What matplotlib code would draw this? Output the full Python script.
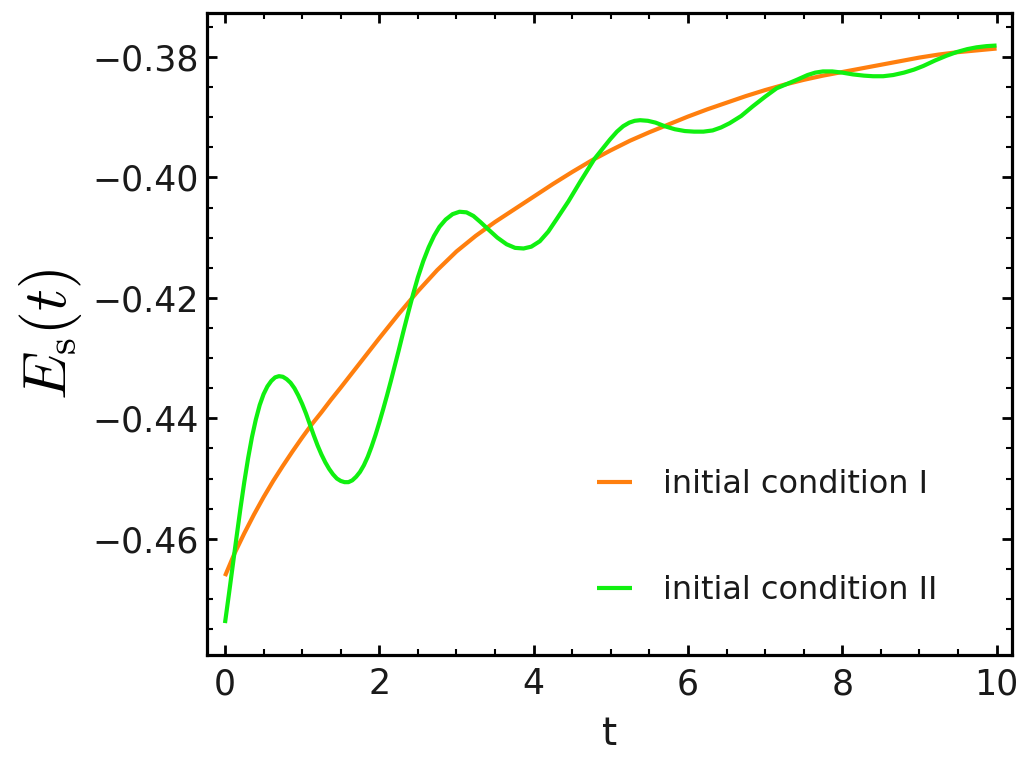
import matplotlib
matplotlib.use("Agg")
import matplotlib.pyplot as plt
from matplotlib.ticker import MultipleLocator, FuncFormatter

# ---- data ----
t_orange = [0.0, 0.125, 0.25, 0.375, 0.5, 0.625, 0.75, 0.875, 1.0, 1.125,
            1.25, 1.375, 1.5, 1.75, 2.0, 2.25, 2.5, 2.75,
            3.0, 3.25, 3.5, 3.75, 4.0, 4.25, 4.5, 4.75, 5.0, 5.25, 5.5, 5.75,
            6.0, 6.25, 6.5, 6.75, 7.0, 7.25, 7.5, 7.75, 8.0, 8.25, 8.5, 8.75,
            9.0, 9.25, 9.5, 9.75, 10.0]
e_orange = [-0.4662, -0.4624, -0.4591, -0.4560, -0.4531, -0.4504, -0.4479,
            -0.4455, -0.4432, -0.4410, -0.4390, -0.4369, -0.4349,
            -0.4308, -0.4267, -0.4227, -0.4189, -0.4154, -0.4123, -0.4097,
            -0.4074, -0.4053, -0.4032, -0.4011, -0.3991, -0.3972, -0.3955,
            -0.3939, -0.3925, -0.3912, -0.3899, -0.3887, -0.3876, -0.3865,
            -0.3855, -0.3846, -0.3838, -0.3831, -0.3825, -0.3819, -0.3813,
            -0.3807, -0.3801, -0.3796, -0.3792, -0.3789, -0.3786]

t_green = [0.00, 0.05, 0.10, 0.15, 0.20, 0.25, 0.30, 0.35, 0.40, 0.45, 0.50,
           0.55, 0.60, 0.65, 0.70, 0.75, 0.80, 0.85, 0.90, 0.95, 1.00, 1.05,
           1.10, 1.15, 1.20, 1.25, 1.30, 1.35, 1.40, 1.45, 1.50, 1.55, 1.60,
           1.65, 1.70, 1.75, 1.80, 1.85, 1.90, 1.95, 2.00, 2.05, 2.10, 2.15,
           2.20, 2.25, 2.31, 2.38, 2.44, 2.50, 2.57, 2.64, 2.71, 2.78, 2.86,
           2.95, 3.04, 3.13, 3.22, 3.31, 3.41, 3.53, 3.65, 3.76, 3.87, 3.97,
           4.08, 4.19, 4.30, 4.45, 4.60, 4.79, 4.99, 5.08, 5.16, 5.24, 5.31,
           5.38, 5.48, 5.58, 5.70, 5.83, 5.96, 6.08, 6.20, 6.32, 6.43, 6.54,
           6.69, 6.84, 7.00, 7.15, 7.28, 7.41, 7.55, 7.65, 7.75, 7.87, 8.00,
           8.14, 8.28, 8.40, 8.53, 8.66, 8.80, 8.93, 9.05, 9.20, 9.35, 9.48,
           9.62, 9.74, 9.87, 10.00]
e_green = [-0.4740, -0.4693, -0.4645, -0.4597, -0.4550, -0.4506, -0.4466,
           -0.4431, -0.4402, -0.4378, -0.4360, -0.4347, -0.4338, -0.4332,
           -0.4330, -0.4331, -0.4335, -0.4341, -0.4350, -0.4362, -0.4376,
           -0.4392, -0.4410, -0.4428, -0.4445, -0.4460, -0.4473, -0.4484,
           -0.4493, -0.4500, -0.4504, -0.4506, -0.4506, -0.4503, -0.4497,
           -0.4489, -0.4478, -0.4464, -0.4447, -0.4428, -0.4407, -0.4385,
           -0.4362, -0.4338, -0.4313, -0.4288, -0.4257, -0.4222, -0.4193,
           -0.4166, -0.4139, -0.4116, -0.4097, -0.4082, -0.4070, -0.4061,
           -0.4057, -0.4058, -0.4064, -0.4074, -0.4086, -0.4100, -0.4111,
           -0.4117, -0.4118, -0.4115, -0.4106, -0.4090, -0.4069, -0.4040,
           -0.4008, -0.3969, -0.3937, -0.3924, -0.3915, -0.3909, -0.3906,
           -0.3905, -0.3906, -0.3909, -0.3915, -0.3920, -0.3923, -0.3924,
           -0.3924, -0.3922, -0.3917, -0.3910, -0.3898, -0.3882, -0.3866,
           -0.3852, -0.3845, -0.3838, -0.3830, -0.3826, -0.3824, -0.3824,
           -0.3826, -0.3829, -0.3831, -0.3832, -0.3832, -0.3830, -0.3826,
           -0.3821, -0.3815, -0.3806, -0.3798, -0.3792, -0.3787, -0.3784,
           -0.3782, -0.3781]

labels = ["initial condition I", "initial condition II"]
x_ticks = [0, 2, 4, 6, 8, 10]
y_ticks = [-0.46, -0.44, -0.42, -0.40, -0.38]

# ---- figure ----
plt.rcParams['font.family'] = ['DejaVu Sans']
plt.rcParams['mathtext.fontset'] = 'cm'

fig = plt.figure(figsize=(10.2, 7.59), dpi=100)
ax = fig.add_axes([207/1020, 1 - 655/759, (1012-207)/1020, (655-13)/759])

c_orange = '#ff7f0e'
c_green = '#10f010'
ax.plot(t_orange, e_orange, color=c_orange, lw=3.0, label=labels[0],
        solid_capstyle='butt', solid_joinstyle='round', zorder=3)
ax.plot(t_green, e_green, color=c_green, lw=3.0, label=labels[1],
        solid_capstyle='butt', solid_joinstyle='round', zorder=4)

ax.set_xlim(-0.233, 10.20)
ax.set_ylim(-0.4793, -0.3727)

ax.set_xticks(x_ticks)
ax.set_yticks(y_ticks)
ax.xaxis.set_minor_locator(MultipleLocator(0.5))
ax.yaxis.set_minor_locator(MultipleLocator(0.005))
ax.yaxis.set_major_formatter(FuncFormatter(lambda v, p: f"{v:.2f}".replace('-', '\u2212')))
ax.xaxis.set_major_formatter(FuncFormatter(lambda v, p: f"{int(round(v))}"))

for s in ax.spines.values():
    s.set_linewidth(2.3)
    s.set_color('black')

ax.tick_params(which='both', direction='in', top=True, right=True, colors='black')
ax.tick_params(which='major', length=7, width=2.0, labelsize=25)
ax.tick_params(which='minor', length=4, width=1.5)
ax.tick_params(axis='x', which='major', pad=9)
ax.tick_params(axis='y', which='major', pad=6)
for lab in ax.get_xticklabels() + ax.get_yticklabels():
    lab.set_color('#1a1a1a')

ax.set_xlabel('t', fontsize=28, color='#1a1a1a', labelpad=10)
ax.set_ylabel(r'$E_{\mathrm{s}}(t)$', fontsize=44)
ax.yaxis.set_label_coords(-0.153, 0.5)

leg = ax.legend(loc='upper left', bbox_to_anchor=(0.4845, 0.29), frameon=False,
                fontsize=23, handlelength=1.1, handletextpad=0.95,
                labelspacing=2.35, borderpad=0, borderaxespad=0)
for txt in leg.get_texts():
    txt.set_color('#1a1a1a')
for line in leg.get_lines():
    line.set_linewidth(3.0)

fig.savefig('out.png', dpi=100)
